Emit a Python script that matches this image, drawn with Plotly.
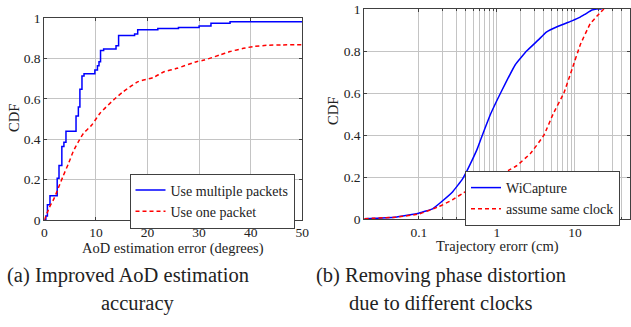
import plotly.graph_objects as go

W, H = 631, 327

# ---- Left panel data: AoD estimation error CDF ----
multi_x = [0, 0.3, 0.6, 1.1, 2.5, 2.85, 3.4, 3.8, 4.2, 6.15, 6.6, 6.9, 7.3, 7.7, 9.8, 10.3, 10.6, 10.9,
           11.5, 13.9, 14.4, 17.5, 18.1, 22, 26, 30, 32.3, 36, 50]
multi_y = [0, 0.02, 0.075, 0.12, 0.207, 0.27, 0.365, 0.385, 0.44, 0.515, 0.56, 0.648, 0.714, 0.725, 0.744,
           0.765, 0.785, 0.84, 0.848, 0.864, 0.915, 0.922, 0.943, 0.95, 0.955, 0.962, 0.975, 0.983, 0.983]
one_x = [0, 1.0, 1.9, 2.7, 3.6, 4.7, 5.6, 6.6, 7.6, 9.2, 10.8, 13.4, 15.3, 18.2, 21.1, 23.1, 25.7, 29.5,
         31, 34, 36, 38.6, 40.5, 43.1, 46, 50]
one_y = [0, 0.063, 0.107, 0.157, 0.215, 0.281, 0.339, 0.388, 0.43, 0.471, 0.529, 0.595, 0.636, 0.686,
         0.706, 0.734, 0.752, 0.785, 0.793, 0.818, 0.835, 0.851, 0.86, 0.866, 0.868, 0.869]

# ---- Right panel data: trajectory error CDF ----
wicap_x = [0.02, 0.05, 0.1, 0.15, 0.19, 0.27, 0.36, 0.41, 0.48, 0.56, 0.64, 0.82, 1.0, 1.3, 1.72, 2.4, 3.4,
           4.3, 6.2, 9.3, 11.5, 13.6, 16.5, 19, 22]
wicap_y = [0.003, 0.01, 0.029, 0.05, 0.08, 0.13, 0.19, 0.228, 0.28, 0.335, 0.393, 0.496, 0.565, 0.65, 0.735,
           0.80, 0.853, 0.89, 0.919, 0.945, 0.96, 0.976, 0.995, 1.0, 1.0]
same_x = [0.02, 0.05, 0.1, 0.18, 0.27, 0.37, 0.5, 0.7, 1.0, 1.4, 1.8, 2.7, 4.0, 5.3, 7.2, 9.2, 11.7, 15.7,
          19, 23.5]
same_y = [0.003, 0.01, 0.025, 0.06, 0.093, 0.125, 0.152, 0.185, 0.213, 0.232, 0.255, 0.314, 0.40, 0.504,
          0.60, 0.715, 0.83, 0.93, 0.965, 1.0]

y_ticks = [0, 0.2, 0.4, 0.6, 0.8, 1]
y_ticklabels = ["0", "0.2", "0.4", "0.6", "0.8", "1"]
left_xticks = [0, 10, 20, 30, 40, 50]
right_xticks = [0.1, 1, 10]
right_xticklabels = ["0.1", "1", "10"]
right_minor = [0.2, 0.3, 0.4, 0.5, 0.6, 0.7, 0.8, 0.9, 2, 3, 4, 5, 6, 7, 8, 9, 20, 30, 40]

FONT = "Liberation Serif"
GRID = "#c4c4c4"
FRAME = "#404040"
TXT = "#222"

def px_x(p):
    return p / W

def px_y(p):
    return 1 - p / H

fig = go.Figure()
fig.add_trace(go.Scatter(x=multi_x, y=multi_y, mode="lines", line=dict(color="#0000ff", width=1.5, shape="hv"),
                         name="Use multiple packets", xaxis="x", yaxis="y", legend="legend"))
fig.add_trace(go.Scatter(x=one_x, y=one_y, mode="lines", line=dict(color="#ff0000", width=1.5, dash="4px,3px", shape="spline", smoothing=0.6),
                         name="Use one packet", xaxis="x", yaxis="y", legend="legend"))
fig.add_trace(go.Scatter(x=wicap_x, y=wicap_y, mode="lines", line=dict(color="#0000ff", width=1.5, shape="spline", smoothing=0.3),
                         name="WiCapture", xaxis="x2", yaxis="y2", legend="legend2"))
fig.add_trace(go.Scatter(x=same_x, y=same_y, mode="lines", line=dict(color="#ff0000", width=1.5, dash="4px,3px", shape="spline", smoothing=0.3),
                         name="assume same clock", xaxis="x2", yaxis="y2", legend="legend2"))

axis_common = dict(showline=True, linecolor=FRAME, linewidth=1, mirror="ticks", ticks="inside", ticklen=3,
                   tickcolor=FRAME, gridcolor=GRID, gridwidth=1, zeroline=False,
                   tickfont=dict(family=FONT, size=13.5, color=TXT), automargin=False)

fig.update_layout(
    width=W, height=H, margin=dict(l=0, r=0, t=0, b=0),
    paper_bgcolor="white", plot_bgcolor="white",
    font=dict(family=FONT, color=TXT),
    xaxis=dict(domain=[px_x(44.3), px_x(302.3)], range=[0, 50], tickvals=left_xticks, anchor="y", **axis_common),
    yaxis=dict(domain=[px_y(220), px_y(18.3)], range=[0, 1], tickvals=y_ticks, ticktext=y_ticklabels, anchor="x", **axis_common),
    xaxis2=dict(domain=[px_x(364.3), px_x(629.5)], type="log", range=[-1.699, 1.699], tickvals=right_xticks,
                ticktext=right_xticklabels, anchor="y2",
                minor=dict(tickvals=right_minor, showgrid=True, gridcolor=GRID, gridwidth=1, ticks="inside", ticklen=2, tickcolor=FRAME),
                **axis_common),
    yaxis2=dict(domain=[px_y(219.3), px_y(9)], range=[0, 1], tickvals=y_ticks, ticktext=y_ticklabels, anchor="x2", **axis_common),
    legend=dict(x=px_x(129.5), y=px_y(173.5), xanchor="left", yanchor="top", bgcolor="white",
                bordercolor=FRAME, borderwidth=1, font=dict(family=FONT, size=14, color=TXT),
                tracegroupgap=0, itemwidth=30),
    legend2=dict(x=px_x(465), y=px_y(171), xanchor="left", yanchor="top", bgcolor="white",
                 bordercolor=FRAME, borderwidth=1, font=dict(family=FONT, size=14, color=TXT),
                 tracegroupgap=0, itemwidth=30),
    showlegend=True,
)

annos = [
    dict(text="AoD estimation error (degrees)", x=px_x(173.3), y=px_y(248), size=14.5),
    dict(text="Trajectory erorr (cm)", x=px_x(497), y=px_y(247), size=14.5),
    dict(text="(a) Improved AoD estimation", x=px_x(127.5), y=px_y(275), size=20.5),
    dict(text="accuracy", x=px_x(138.3), y=px_y(303), size=20.5),
    dict(text="(b) Removing phase distortion", x=px_x(441), y=px_y(275), size=20.5),
    dict(text="due to different clocks", x=px_x(440.5), y=px_y(303), size=20.5),
]
for a in annos:
    fig.add_annotation(text=a["text"], x=a["x"], y=a["y"], xref="paper", yref="paper",
                       xanchor="center", yanchor="middle", showarrow=False,
                       font=dict(family=FONT, size=a["size"], color=TXT))
for xc, yc in [(14, 118), (333, 111)]:
    fig.add_annotation(text="CDF", x=px_x(xc), y=px_y(yc), xref="paper", yref="paper",
                       xanchor="center", yanchor="middle", showarrow=False, textangle=-90,
                       font=dict(family=FONT, size=14.5, color=TXT))

# remove the browser's default 8px body margin so the figure sits at the window origin
fig.write_html("out.html", config={"displayModeBar": False},
               post_script="document.body.style.margin='0';")
